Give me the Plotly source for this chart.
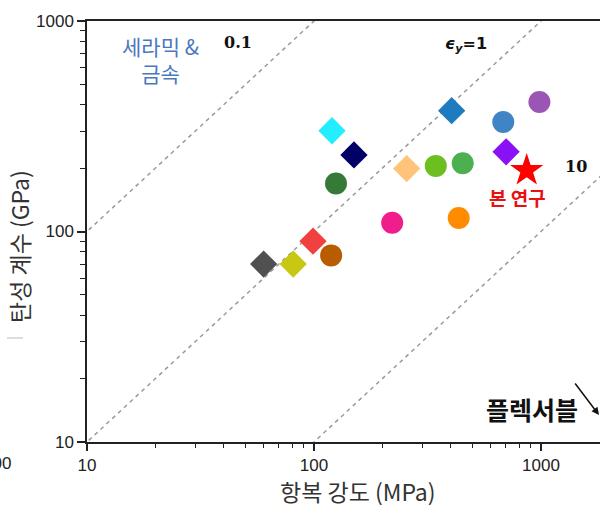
import plotly.graph_objects as go

# ---- data ----
diamond_x = [60, 81, 99, 120, 150, 256, 404, 702]
diamond_y = [70, 70, 90, 301, 231, 199, 375, 239]
diamond_colors = ["#505050", "#c8c814", "#f04040", "#22eeff", "#000066",
                  "#ffc47a", "#1e7bc0", "#8a10f5"]

circle_x = [119, 125, 221, 344, 434, 452, 682, 984]
circle_y = [77, 169, 110, 205, 116, 211, 331, 412]
circle_colors = ["#b85c00", "#357a38", "#f01e8c", "#6cbf1f", "#ff8c00",
                 "#4caf50", "#3f84c4", "#9a55b5"]

star_x = [865]
star_y = [195]

strain_ratio = [10, 1, 0.1]          # E / sigma for the dashed strain lines
line_sigma = [1, 100000]

x_ticks = [10, 100, 1000]
y_ticks = [10, 100, 1000]
minor_vals = [m * d for d in (10, 100, 1000) for m in range(2, 10)]

KFONT = "Noto Sans CJK KR"
NFONT = "Liberation Sans"

fig = go.Figure()

for r in strain_ratio:
    fig.add_trace(go.Scatter(
        x=line_sigma, y=[s * r for s in line_sigma], mode="lines",
        line=dict(color="#9a9a9a", width=1.5, dash="4px,4px"),
        hoverinfo="skip", showlegend=False))

for xv, yv, c in zip(diamond_x, diamond_y, diamond_colors):
    fig.add_trace(go.Scatter(x=[xv], y=[yv], mode="markers",
                             marker=dict(symbol="diamond", size=21, color=c,
                                         line=dict(width=0)),
                             showlegend=False))
for xv, yv, c in zip(circle_x, circle_y, circle_colors):
    fig.add_trace(go.Scatter(x=[xv], y=[yv], mode="markers",
                             marker=dict(symbol="circle", size=22, color=c,
                                         line=dict(width=0)),
                             showlegend=False))
fig.add_trace(go.Scatter(x=star_x, y=star_y, mode="markers",
                         marker=dict(symbol="star", size=25, color="#ff0000",
                                     line=dict(width=0)),
                         showlegend=False))

L, T, W, H = 87, 21, 513, 421


def px(xp):
    return (xp - L) / W


def py(yp):
    return (T + H - yp) / H


ann = []
# strain labels
ann.append(dict(x=px(238), y=py(42), text="<b>0.1</b>",
                font=dict(family="DejaVu Serif", size=16, color="#111")))
ann.append(dict(x=px(466), y=py(45), text="<b><i>ϵ</i><sub><i>y</i></sub>=1</b>",
                font=dict(family="DejaVu Sans", size=16, color="#111")))
ann.append(dict(x=px(576), y=py(166), text="<b>10</b>",
                font=dict(family="DejaVu Serif", size=16, color="#111")))
# category labels
ann.append(dict(x=px(160), y=py(60), text="세라믹 &amp;<br>금속",
                font=dict(family=KFONT, size=21, color="#4a78c0")))
ann.append(dict(x=px(517), y=py(198), text="<b>본 연구</b>",
                font=dict(family=KFONT, size=19, color="#e81010")))
ann.append(dict(x=px(532), y=py(409), text="<b>플렉서블</b>",
                font=dict(family=KFONT, size=25, color="#111")))
# arrow
ann.append(dict(x=px(599), y=py(415), ax=-25, ay=-33, text="",
                showarrow=True, arrowhead=2, arrowsize=1, arrowwidth=1.5,
                arrowcolor="#111"))
# axis titles
ann.append(dict(x=px(358), y=py(491), text="항복 강도 (MPa)",
                font=dict(family=KFONT, size=23, color="#333")))
ann.append(dict(x=px(19), y=py(247), text="탄성 계수 (GPa)", textangle=-90,
                font=dict(family=KFONT, size=23, color="#333")))
# cropped leftover tick label
ann.append(dict(x=px(13), y=py(463), text="100", xanchor="right",
                font=dict(family=NFONT, size=17, color="#222")))

for a in ann:
    a.setdefault("xref", "paper")
    a.setdefault("yref", "paper")
    a.setdefault("showarrow", False)
    a.setdefault("xanchor", "center")
    a.setdefault("yanchor", "middle")

fig.update_layout(
    width=600, height=507,
    margin=dict(l=L, r=0, t=T, b=507 - T - H),
    plot_bgcolor="white", paper_bgcolor="white",
    annotations=ann,
    shapes=[dict(type="line", xref="paper", yref="paper",
                 x0=px(7), x1=px(23), y0=py(338), y1=py(338),
                 line=dict(color="#bbbbbb", width=1))],
    xaxis=dict(type="log", range=[1, 1 + W / 227], tickvals=x_ticks,
               ticktext=[str(v) for v in x_ticks],
               showgrid=False, zeroline=False, showline=True, mirror=True,
               linecolor="#222", linewidth=1.5, ticks="outside", ticklen=7,
               tickwidth=1.5, tickcolor="#222",
               tickfont=dict(family=NFONT, size=17, color="#222"),
               minor=dict(tickmode="array", tickvals=minor_vals,
                          ticks="outside", ticklen=4, tickwidth=1,
                          tickcolor="#222", showgrid=False)),
    yaxis=dict(type="log", range=[1, 3], tickvals=y_ticks,
               ticktext=[str(v) for v in y_ticks],
               showgrid=False, zeroline=False, showline=True, mirror=False,
               linecolor="#222", linewidth=1.5, ticks="outside", ticklen=8,
               tickwidth=1.5, tickcolor="#222",
               tickfont=dict(family=NFONT, size=17, color="#222"),
               minor=dict(tickmode="array", tickvals=minor_vals,
                          ticks="outside", ticklen=5, tickwidth=1,
                          tickcolor="#222", showgrid=False)),
)

fig.write_html("out.html", config={"displayModeBar": False},
               post_script="document.body.style.margin='0';"
                           "document.body.style.padding='0';")
